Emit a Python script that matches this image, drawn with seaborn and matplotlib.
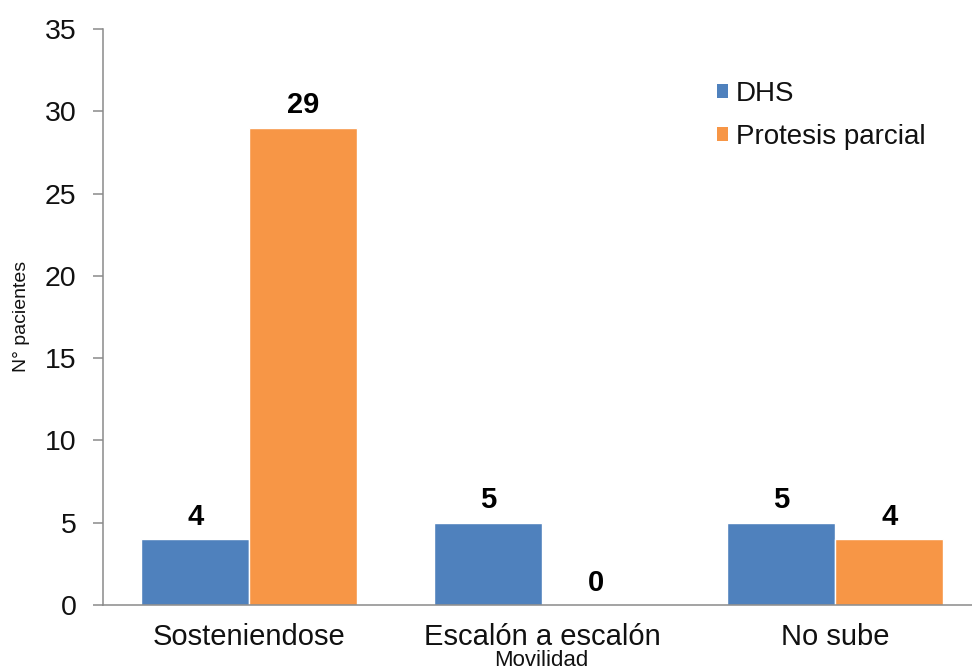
import matplotlib
matplotlib.use("Agg")
import matplotlib.pyplot as plt
from matplotlib.patches import Patch
import seaborn as sns
import pandas as pd

# Chart data
categorias = ["Sosteniendose", "Escalón a escalón", "No sube"]
series = ["DHS", "Protesis parcial"]
dhs = [4, 5, 5]
protesis = [29, 0, 4]
colores = ["#4F81BD", "#F79646"]
yticks = [0, 5, 10, 15, 20, 25, 30, 35]

df = pd.DataFrame({
    "Movilidad": categorias * 2,
    "Serie": [series[0]] * 3 + [series[1]] * 3,
    "Pacientes": dhs + protesis,
})

sns.set_theme(style="white")
plt.rcParams["font.family"] = ["Liberation Sans", "DejaVu Sans"]

W, H = 972, 672
fig = plt.figure(figsize=(W / 100, H / 100), dpi=100)
# plot area: y-axis at x=102.7px, baseline at y=605px, top (35) at y=29px
left, right = 102.7, 981.7
bottom, top = 605, 29
ax = fig.add_axes([left / W, 1 - bottom / H, (right - left) / W, (bottom - top) / H])

sns.barplot(data=df, x="Movilidad", y="Pacientes", hue="Serie",
            order=categorias, hue_order=series, palette=colores,
            width=0.737, saturation=1, legend=False, ax=ax)

for cont in ax.containers:
    ax.bar_label(cont, fmt="%d", padding=6, fontsize=21, fontweight="bold",
                 color="black")

ax.set_xlim(-0.5, 2.5)
ax.set_ylim(0, 35)
ax.set_yticks(yticks)
ax.set_yticklabels([str(v) for v in yticks])

for s in ["top", "right"]:
    ax.spines[s].set_visible(False)
for s in ["left", "bottom"]:
    ax.spines[s].set_color("#8a8a8a")
    ax.spines[s].set_linewidth(1.1)

ax.tick_params(axis="y", length=7, width=1.1, color="#8a8a8a", pad=12,
               labelsize=20.5, labelcolor="#111111", left=True)
ax.tick_params(axis="x", length=0, pad=13, labelsize=21, labelcolor="#111111")

ax.set_xlabel("Movilidad", fontsize=16, color="#111111")
ax.xaxis.label.set_va("center")
ax.xaxis.set_label_coords((541 - left) / (right - left), (bottom - 661) / (bottom - top))

ax.set_ylabel("N° pacientes", fontsize=14, color="#111111")
ax.yaxis.label.set_va("center")
ax.yaxis.set_label_coords((21 - left) / (right - left), (bottom - 316) / (bottom - top))

handles = [Patch(facecolor=c, edgecolor="none") for c in colores]
leg = ax.legend(handles, series, loc="upper left", frameon=False,
                bbox_to_anchor=(706 / W, 1 - 70 / H), bbox_transform=fig.transFigure,
                fontsize=20, handlelength=0.38, handleheight=0.38,
                handletextpad=0.3, labelspacing=0.6, borderaxespad=0)
for t in leg.get_texts():
    t.set_color("#111111")

fig.savefig("out.png", dpi=100)
